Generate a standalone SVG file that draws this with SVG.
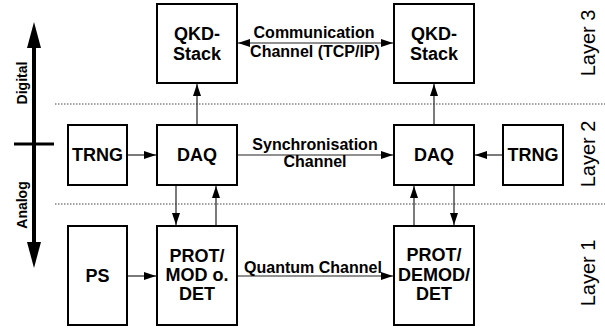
<svg xmlns="http://www.w3.org/2000/svg" width="605" height="329" viewBox="0 0 605 329">
<defs>
<marker id="ah" markerUnits="userSpaceOnUse" markerWidth="13" markerHeight="9" refX="12" refY="4" orient="auto-start-reverse">
<path d="M0,0 L12,4 L0,8 z" fill="#000"/>
</marker>
<style>
.box{fill:#fff;stroke:#000;stroke-width:2}
.lbl{font-family:"Liberation Sans",Arial,sans-serif;font-weight:bold;font-size:18px;text-anchor:middle;fill:#000}
.ch{font-family:"Liberation Sans",Arial,sans-serif;font-weight:bold;font-size:16px;text-anchor:middle;fill:#000}
.ax{font-family:"Liberation Sans",Arial,sans-serif;font-weight:bold;font-size:14px;text-anchor:middle;fill:#000}
.lay{font-family:"Liberation Sans",Arial,sans-serif;font-size:20px;text-anchor:middle;fill:#000}
.c{stroke:#222;stroke-width:1.2;fill:none;marker-end:url(#ah)}
.dot{stroke:#444;stroke-width:1;stroke-dasharray:1.5 1.5}
</style>
</defs>
<rect width="605" height="329" fill="#fff"/>
<g id="separators">
<line class="dot" x1="55" y1="104" x2="605" y2="104"/>
<line class="dot" x1="55" y1="204" x2="605" y2="204"/>
</g>
<g id="axis">
<line x1="34" y1="44" x2="34" y2="246" stroke="#000" stroke-width="4"/>
<polygon points="34,22 41,48 27,48" fill="#000"/>
<polygon points="34,268 41,242 27,242" fill="#000"/>
<line x1="14" y1="144" x2="54" y2="144" stroke="#000" stroke-width="3"/>
<text class="ax" transform="translate(27,83) rotate(-90)">Digital</text>
<text class="ax" transform="translate(27,205) rotate(-90)">Analog</text>
</g>
<g id="layers">
<text class="lay" transform="translate(595,43) rotate(-90)">Layer 3</text>
<text class="lay" transform="translate(595,154) rotate(-90)">Layer 2</text>
<text class="lay" transform="translate(595,273) rotate(-90)">Layer 1</text>
</g>
<g id="connectors">
<line class="c" x1="238" y1="43" x2="393" y2="43" style="marker-start:url(#ah)"/>
<line class="c" x1="197" y1="124" x2="197" y2="84"/>
<line class="c" x1="434" y1="124" x2="434" y2="84"/>
<line class="c" x1="127" y1="155" x2="156" y2="155"/>
<line class="c" x1="238" y1="155" x2="393" y2="155"/>
<line class="c" x1="502" y1="155" x2="475" y2="155"/>
<line class="c" x1="176" y1="186" x2="176" y2="225"/>
<line class="c" x1="216" y1="225" x2="216" y2="186"/>
<line class="c" x1="414" y1="225" x2="414" y2="186"/>
<line class="c" x1="454" y1="186" x2="454" y2="225"/>
<line class="c" x1="127" y1="276" x2="156" y2="276"/>
<line class="c" x1="238" y1="276" x2="393" y2="276"/>
<text class="ch" x="314" y="38">Communication</text>
<text class="ch" x="315" y="57">Channel (TCP/IP)</text>
<text class="ch" x="315" y="150">Synchronisation</text>
<text class="ch" x="315" y="167">Channel</text>
<text class="ch" x="313" y="273">Quantum Channel</text>
</g>
<g id="qkd-left"><rect class="box" x="157" y="4" width="80" height="79"/><text class="lbl" x="197" y="40">QKD-</text><text class="lbl" x="197" y="60">Stack</text></g>
<g id="qkd-right"><rect class="box" x="394" y="4" width="80" height="79"/><text class="lbl" x="434" y="40">QKD-</text><text class="lbl" x="434" y="60">Stack</text></g>
<g id="trng-left"><rect class="box" x="68" y="125" width="59" height="60"/><text class="lbl" x="97.5" y="161">TRNG</text></g>
<g id="daq-left"><rect class="box" x="157" y="125" width="80" height="60"/><text class="lbl" x="197" y="161">DAQ</text></g>
<g id="daq-right"><rect class="box" x="394" y="125" width="80" height="60"/><text class="lbl" x="434" y="161">DAQ</text></g>
<g id="trng-right"><rect class="box" x="503" y="125" width="60" height="60"/><text class="lbl" x="533" y="161">TRNG</text></g>
<g id="ps"><rect class="box" x="68" y="226" width="59" height="99"/><text class="lbl" x="97.5" y="282">PS</text></g>
<g id="prot-left"><rect class="box" x="157" y="226" width="80" height="99"/><text class="lbl" x="197" y="262">PROT/</text><text class="lbl" x="197" y="281">MOD o.</text><text class="lbl" x="197" y="300">DET</text></g>
<g id="prot-right"><rect class="box" x="394" y="226" width="80" height="99"/><text class="lbl" x="434" y="261">PROT/</text><text class="lbl" x="434" y="281">DEMOD/</text><text class="lbl" x="434" y="300">DET</text></g>
</svg>
